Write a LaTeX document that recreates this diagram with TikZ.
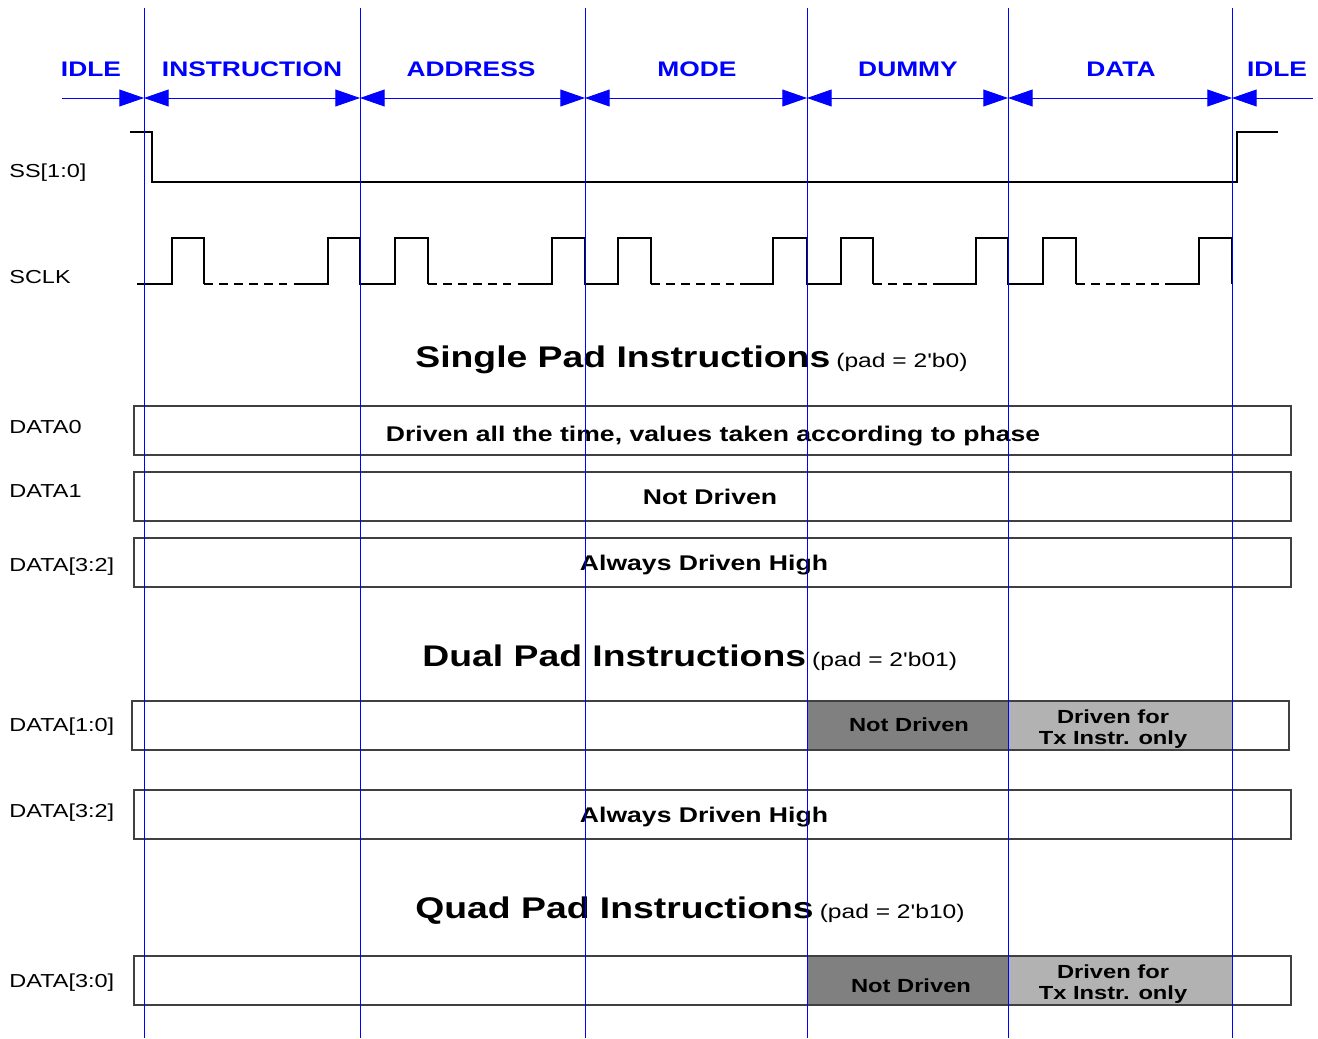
\documentclass[tikz,border=0pt]{standalone}
\usepackage{fontspec}
\setmainfont{Liberation Sans}[FakeStretch=1.25, Ligatures=TeXOff]
\usetikzlibrary{arrows.meta}

\tikzset{
  phase/.style={text=blue, inner sep=0pt, font=\fontsize{12}{14}\selectfont\bfseries},
  siglabel/.style={anchor=base west, inner sep=0pt, font=\fontsize{10.7}{12}\selectfont},
  title/.style={anchor=base west, inner sep=0pt},
  boxtext/.style={anchor=base, inner sep=0pt, font=\fontsize{12.1}{14}\selectfont\bfseries},
  graytext/.style={inner sep=0pt, align=center, font=\fontsize{10.8}{12}\selectfont\bfseries},
  sig/.style={line width=1pt, black},
  lane/.style={line width=0.8pt, black!75},
  bound/.style={blue, line width=0.5pt},
  tip/.style={{Triangle[length=14pt, width=9.6pt]}-{Triangle[length=14pt, width=9.6pt]}}
}
\newcommand{\padnote}[1]{{\fontsize{11.2}{13}\selectfont (pad = 2'#1)}}

\begin{document}
\begin{tikzpicture}[x=0.02cm, y=-0.02cm]
        \useasboundingbox (0,0) rectangle (1318,1038);
        % Phase boundaries (arrow row)
        \coordinate (idleL) at (62,98);
        \coordinate (b0) at (144,98);
        \coordinate (b1) at (360,98);
        \coordinate (b2) at (585,98);
        \coordinate (b3) at (807,98);
        \coordinate (b4) at (1008,98);
        \coordinate (b5) at (1232,98);
        \coordinate (idleR) at (1313,98);
        % Phase names
        \node[phase] (pidle1) at (91,69) {IDLE};
        \node[phase] (pinstr) at (252,69) {INSTRUCTION};
        \node[phase] (paddr) at (471,69) {ADDRESS};
        \node[phase] (pmode) at (697,69) {MODE};
        \node[phase] (pdummy) at (908,69) {DUMMY};
        \node[phase] (pdata) at (1121,69) {DATA};
        \node[phase] (pidle2) at (1277,69) {IDLE};
        % Signal names
        \node[siglabel] (lss) at (9,177) {SS[1:0]};
        \node[siglabel] (lclk) at (9,283) {SCLK};
        \node[siglabel] (ld0) at (9,433) {DATA0};
        \node[siglabel] (ld1) at (9,497) {DATA1};
        \node[siglabel] (ld32a) at (9,571) {DATA[3:2]};
        \node[siglabel] (ld10) at (9,731) {DATA[1:0]};
        \node[siglabel] (ld32b) at (9,817) {DATA[3:2]};
        \node[siglabel] (ld30) at (9,987) {DATA[3:0]};
        % SS[1:0]
        \draw[sig] (130,132) -- (152,132) -- (152,182) -- (1237,182) -- (1237,132) -- (1278,132);
        % SCLK
        \draw[sig] (137,284) -- (172,284) -- (172,238) -- (204,238) -- (204,284);
        \draw[sig] (295,284) -- (328,284) -- (328,238) -- (360,238) -- (360,284) -- (395,284) -- (395,238) -- (428,238) -- (428,284);
        \draw[sig] (518,284) -- (552,284) -- (552,238) -- (585,238) -- (585,284) -- (618,284) -- (618,238) -- (651,238) -- (651,284);
        \draw[sig] (740,284) -- (773,284) -- (773,238) -- (807,238) -- (807,284) -- (841,284) -- (841,238) -- (873,238) -- (873,284);
        \draw[sig] (940,284) -- (976,284) -- (976,238) -- (1008,238) -- (1008,284) -- (1043,284) -- (1043,238) -- (1076,238) -- (1076,284);
        \draw[sig] (1165,284) -- (1199,284) -- (1199,238) -- (1232,238) -- (1232,284);
        % SCLK gaps (dashed)
        \draw[sig, dash pattern=on 5pt off 3.5pt] (204,284) -- (295,284);
        \draw[sig, dash pattern=on 5pt off 3.5pt] (428,284) -- (518,284);
        \draw[sig, dash pattern=on 5pt off 3.5pt] (651,284) -- (740,284);
        \draw[sig, dash pattern=on 5pt off 3.5pt] (873,284) -- (940,284);
        \draw[sig, dash pattern=on 5pt off 3.5pt] (1076,284) -- (1165,284);
        % Single pad
        \node[title] (tsingle) at (415,367) {{\fontsize{17}{20}\selectfont\bfseries Single Pad Instructions} \padnote{b0}};
        \draw[lane] (134,406) rectangle (1291,455);
        \draw[lane] (134,472) rectangle (1291,521);
        \draw[lane] (134,538) rectangle (1291,587);
        \node[boxtext] (sdrv) at (713,441) {Driven all the time, values taken according to phase};
        \node[boxtext] (snot) at (710,504) {Not Driven};
        \node[boxtext] (shigh) at (704,570) {Always Driven High};
        % Dual pad
        \node[title] (tdual) at (422,666) {{\fontsize{17}{20}\selectfont\bfseries Dual Pad Instructions} \padnote{b01}};
        \fill[black!50] (807,701) rectangle (1008,750);
        \fill[black!30] (1008,701) rectangle (1232,750);
        \draw[lane] (132,701) rectangle (1289,750);
        \draw[lane] (134,790) rectangle (1291,839);
        \node[boxtext, font=\fontsize{10.8}{12}\selectfont\bfseries] (dnot) at (909,731) {Not Driven};
        \node[graytext, anchor=north] (dtx) at (1113,709.5) {Driven for\\Tx Instr. only};
        \node[boxtext] (dhigh) at (704,822) {Always Driven High};
        % Quad pad
        \node[title] (tquad) at (415,918) {{\fontsize{17}{20}\selectfont\bfseries Quad Pad Instructions} \padnote{b10}};
        \fill[black!50] (807,956) rectangle (1008,1005);
        \fill[black!30] (1008,956) rectangle (1232,1005);
        \draw[lane] (134,956) rectangle (1291,1005);
        \node[boxtext, font=\fontsize{10.8}{12}\selectfont\bfseries] (qnot) at (911,992) {Not Driven};
        \node[graytext, anchor=north] (qtx) at (1113,964.5) {Driven for\\Tx Instr. only};
        % Phase boundaries (vertical)
        \foreach \b in {b0,b1,b2,b3,b4,b5}
          \draw[bound] (\b |- 0,8) -- (\b |- 0,1038);
        % Phase arrows
        \draw[bound, -{Triangle[length=14pt, width=9.6pt]}] (idleL) -- (b0);
        \draw[bound, tip] (b0) -- (b1);
        \draw[bound, tip] (b1) -- (b2);
        \draw[bound, tip] (b2) -- (b3);
        \draw[bound, tip] (b3) -- (b4);
        \draw[bound, tip] (b4) -- (b5);
        \draw[bound, -{Triangle[length=14pt, width=9.6pt]}] (idleR) -- (b5);
\end{tikzpicture}
\end{document}
